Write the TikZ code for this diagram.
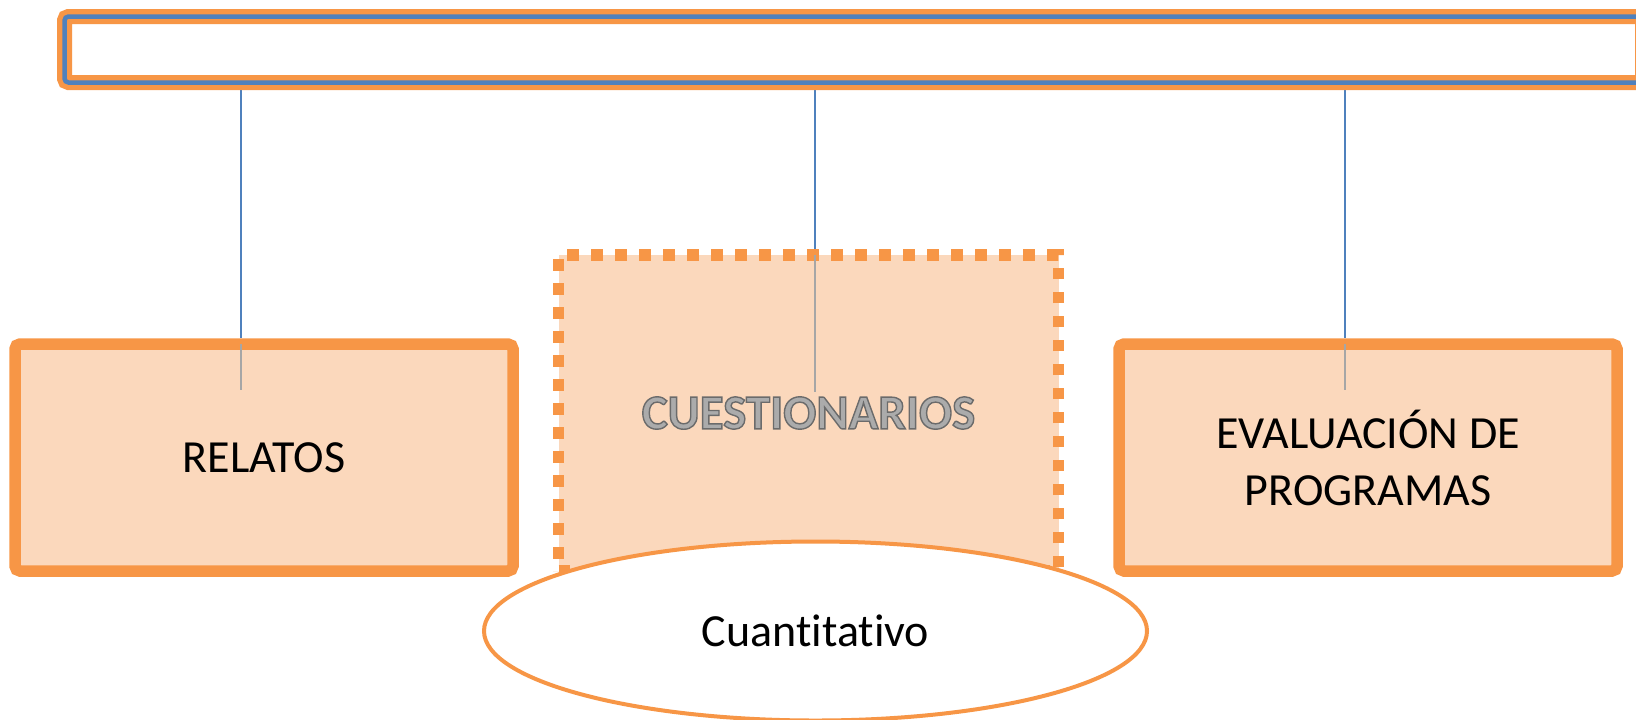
\documentclass[tikz,border=0pt]{standalone}
\usepackage{fontspec}
\setmainfont{Carlito}[Ligatures=NoCommon]
\usetikzlibrary{shapes.geometric,calc,backgrounds}
\definecolor{org}{HTML}{F79646}
\definecolor{peach}{HTML}{FBD8BC}
\definecolor{bl}{HTML}{4F81BD}
\definecolor{lgray}{HTML}{A6A6A6}
\definecolor{tgray}{HTML}{ABABAB}
\newcommand{\outlinetext}[1]{\textcolor{tgray}{\special{pdf:literal direct 2 Tr 0.42 G 0.7 w}#1\special{pdf:literal direct 0 Tr 0.4 w}}}
\begin{document}
\begin{tikzpicture}[x=0.5pt,y=-0.5pt,
  bigfont/.style={font=\fontsize{23pt}{28.5pt}\selectfont},
  topbar/.style={draw=org,double=bl,line width=2.625pt,double distance=2.25pt,
    fill=white,minimum width=789pt,minimum height=33pt,inner sep=0pt,rounded corners=2pt},
  itembox/.style={draw=org,line width=5.75pt,fill=peach,minimum width=249pt,
    minimum height=113.5pt,inner sep=0pt,rounded corners=2.5pt,align=center,bigfont},
  dotbox/.style={draw=org,line width=5.75pt,dash pattern=on 5.75pt off 6.25pt,fill=peach,
    minimum width=250pt,minimum height=158pt,inner sep=0pt,align=center,
    font=\fontsize{24.5pt}{28.5pt}\selectfont\bfseries},
  oval/.style={ellipse,draw=org,line width=2pt,fill=white,minimum width=331.5pt,
    minimum height=89.5pt,inner sep=0pt,bigfont},
  conn/.style={draw=bl,line width=0.9pt},
  connin/.style={draw=lgray,line width=0.9pt}]
\clip (0,0) rectangle (1636,719);
\node[topbar] (bar) at (853.5,49.5) {};
\node[itembox] (rel) at (264,457.5) {RELATOS};
\node[itembox] (eva) at (1368,457.5) {EVALUACIÓN DE\\PROGRAMAS};
\node[dotbox] (cue) at (808.5,413) {\outlinetext{CUESTIONARIOS}};
\coordinate (e1) at (241,390);
\coordinate (e2) at (815,392);
\coordinate (e3) at (1345,390);
\begin{pgfonlayer}{background}
\draw[conn] (bar.south -| e1) -- (rel.north -| e1);
\draw[conn] (bar.south -| e2) -- (cue.north -| e2);
\draw[conn] (bar.south -| e3) -- (eva.north -| e3);
\end{pgfonlayer}
\draw[connin] ($(rel.north -| e1)+(0,6)$) -- (e1);
\draw[connin] ($(cue.north -| e2)+(0,6)$) -- (e2);
\draw[connin] ($(eva.north -| e3)+(0,6)$) -- (e3);
\node[oval] (cua) at (815.5,631) {Cuantitativo};
\end{tikzpicture}
\end{document}
